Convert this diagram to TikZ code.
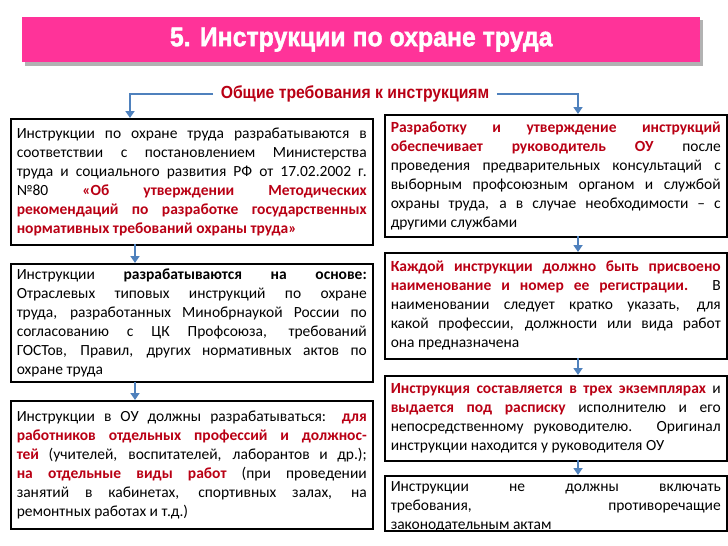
\documentclass[tikz,border=0pt]{standalone}
\usepackage{fontspec}
\setmainfont{Carlito}
\newfontfamily\titlefont[FakeStretch=0.92,FakeBold=1.5]{Liberation Sans}
\newfontfamily\subfont[FakeStretch=0.9]{Liberation Sans}
\usetikzlibrary{arrows.meta}
\definecolor{dred}{RGB}{185,0,20}
\definecolor{pinkb}{RGB}{255,51,153}
\definecolor{arrblue}{RGB}{79,129,189}
\newcommand{\rd}[1]{\textcolor{dred}{\textbf{#1}}}
\begin{document}
\begin{tikzpicture}[x=1pt,y=-1pt,
  box/.style={draw=black,line width=1.5pt,anchor=north west,align=justify,inner xsep=6pt,inner ysep=4pt,font=\fontsize{15.5}{19}\selectfont},
  lbox/.style={box,text width=350pt,minimum width=362pt},
  rbox/.style={box,text width=330pt,minimum width=342pt},
  arr/.style={-{Triangle[width=9pt,length=7pt]},draw=arrblue,line width=2.6pt}]
\useasboundingbox (0,0) rectangle (728,546);
% banner
\fill[gray!60] (25,20) rectangle (703,66);
\node[fill=pinkb,minimum width=678pt,minimum height=45pt,anchor=north west,inner sep=0pt] (title) at (22,17)
  {\titlefont\bfseries\fontsize{27}{30}\selectfont\color{white}5. Инструкции по охране труда};
\node[font=\subfont\bfseries\fontsize{17.5}{20}\selectfont,text=dred] (sub) at (355,94) {Общие требования к инструкциям};
% left boxes
\node[lbox,minimum height=126pt] (l1) at (10,118) {Инструкции по охране труда разрабатываются в\linebreak
соответствии с постановлением Министерства\linebreak
труда и социального развития РФ от 17.02.2002 г.\linebreak
№80 \rd{«Об утверждении Методических\linebreak
рекомендаций по разработке государственных\linebreak
нормативных требований охраны труда»}};
\node[lbox,minimum height=118pt] (l2) at (10,263) {Инструкции \textbf{разрабатываются на основе:}\linebreak
Отраслевых типовых инструкций по охране\linebreak
труда, разработанных Минобрнаукой России по\linebreak
согласованию с ЦК Профсоюза, требований\linebreak
ГОСТов, Правил, других нормативных актов по\linebreak
охране труда};
\node[lbox,minimum height=128pt] (l3) at (10,400) {Инструкции в ОУ должны разрабатываться: \rd{для}\linebreak
\rd{работников отдельных профессий и должнос-}\linebreak
\rd{тей} (учителей, воспитателей, лаборантов и др.);\linebreak
\rd{на отдельные виды работ} (при проведении\linebreak
занятий в кабинетах, спортивных залах, на\linebreak
ремонтных работах и т.д.)};
% right boxes
\node[rbox,minimum height=122pt] (r1) at (384,114) {\rd{Разработку и утверждение инструкций}\linebreak
\rd{обеспечивает руководитель ОУ} после\linebreak
проведения предварительных консультаций с\linebreak
выборным профсоюзным органом и службой\linebreak
охраны труда, а в случае необходимости – с\linebreak
другими службами};
\node[rbox,minimum height=106pt] (r2) at (384,252) {\rd{Каждой инструкции должно быть присвоено}\linebreak
\rd{наименование и номер ее регистрации.} В\linebreak
наименовании следует кратко указать, для\linebreak
какой профессии, должности или вида работ\linebreak
она предназначена};
\node[rbox,minimum height=85pt] (r3) at (384,375) {\rd{Инструкция составляется в трех экземплярах} и\linebreak
\rd{выдается под расписку} исполнителю и его\linebreak
непосредственному руководителю. Оригинал\linebreak
инструкции находится у руководителя ОУ};
\node[draw=black,line width=1.5pt,anchor=north west,minimum width=342pt,minimum height=55pt] (r4) at (384,475) {};
\node[box,draw=none,text width=330pt,minimum width=342pt] (r4t) at (384,477) {Инструкции не должны включать\linebreak
требования, противоречащие\linebreak
законодательным актам};
% connectors
\coordinate (sl) at (130,94); \coordinate (sr) at (578,94);
\draw[arr] ([xshift=-4pt]sub.west) -- (sl) -- (sl |- l1.north);
\draw[arr] ([xshift=4pt]sub.east) -- (sr) -- (sr |- r1.north);
\draw[arr] (135,244) -- (l2.north -| 135,0);
\draw[arr] (135,382) -- (l3.north -| 135,0);
\draw[arr] (578,236) -- (r2.north -| 578,0);
\draw[arr] (578,358) -- (r3.north -| 578,0);
\draw[arr] (578,460) -- (r4.north -| 578,0);
\end{tikzpicture}
\end{document}
